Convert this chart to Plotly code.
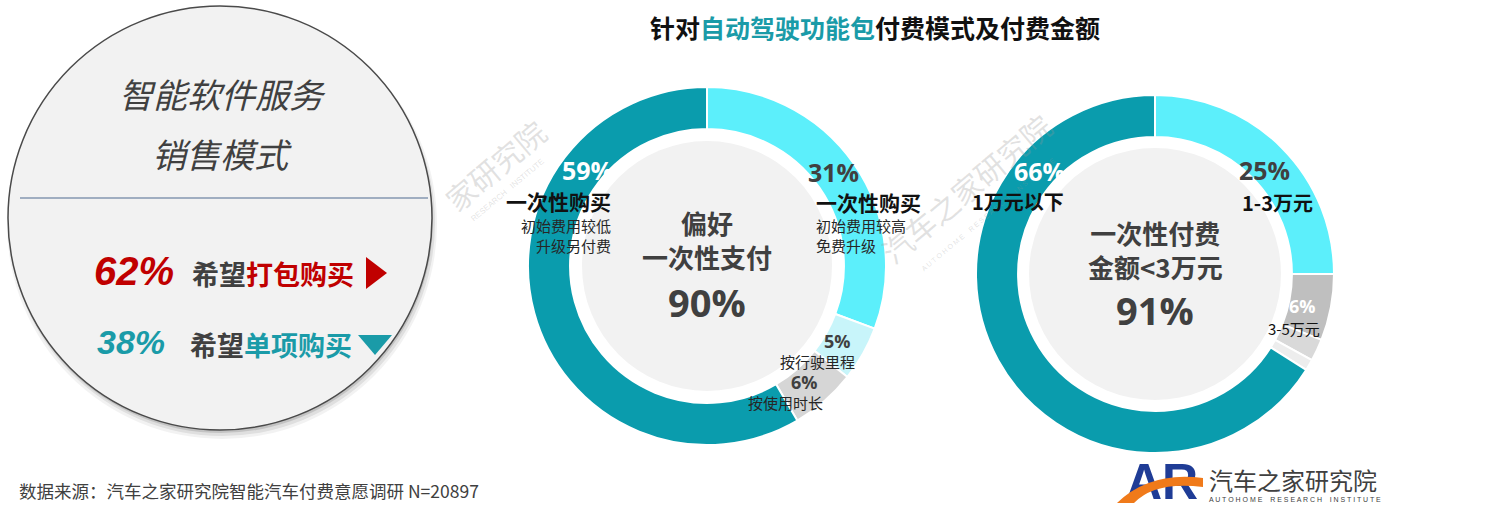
import plotly.graph_objects as go

W, H = 1488, 526

# ---------------- data ----------------
title_parts = ["针对", "自动驾驶功能包", "付费模式及付费金额"]

mode_labels = ["一次性购买（初始费用较高，免费升级）", "按行驶里程", "按使用时长",
               "一次性购买（初始费用较低，升级另付费）"]
mode_values = [31, 5, 6, 59]
mode_colors = ["#5CEFFB", "#C8F5FA", "#D6D6D6", "#0A9CAD"]
mode_total_pct = 90

amount_labels = ["1-3万元", "3-5万元", "5-10万元", "10万元以上", "1万元以下"]
amount_values = [25, 6, 2, 1, 66]
amount_colors = ["#5CEFFB", "#BFBFBF", "#D9D9D9", "#EDEDED", "#0A9CAD"]
amount_total_pct = 91

bundle_pct = 62
single_pct = 38

source_text = "数据来源：汽车之家研究院智能汽车付费意愿调研 N=20897"

TEAL = "#0A9CAD"
TEAL_TXT = "#1A9BA8"
RED = "#C00000"
DARK = "#404040"
CJK = "Noto Sans CJK SC"
NUM = "Open Sans, Noto Sans CJK SC"


def X(px):
    return px / W


def Y(py):
    return 1 - py / H


fig = go.Figure()

# ---------------- donuts ----------------
def donut(values, labels, colors, cx, cy, r):
    fig.add_trace(go.Pie(
        values=values, labels=labels, sort=False, direction="clockwise", rotation=0,
        hole=0.765, textinfo="none", hoverinfo="label+percent", showlegend=False,
        marker=dict(colors=colors, line=dict(color="white", width=2)),
        domain=dict(x=[X(cx - r), X(cx + r)], y=[Y(cy + r), Y(cy - r)]),
    ))


donut(mode_values, mode_labels, mode_colors, 707, 266, 179)
donut(amount_values, amount_labels, amount_colors, 1155, 274, 179)

# logo letters through a pixel-space scatter
fig.add_trace(go.Scatter(x=[1162], y=[H - 486], mode="text", text=["<b>AR</b>"],
                         textfont=dict(family="Liberation Sans", size=50, color="#1F3C96"),
                         hoverinfo="skip", showlegend=False))
fig.update_xaxes(visible=False, range=[0, W], domain=[0, 1])
fig.update_yaxes(visible=False, range=[0, H], domain=[0, 1])

shapes = []
# inner gray discs
for cx, cy, r in [(707, 266, 125), (1155, 274, 126)]:
    shapes.append(dict(type="circle", xref="paper", yref="paper",
                       x0=X(cx - r), x1=X(cx + r), y0=Y(cy + r), y1=Y(cy - r),
                       fillcolor="#F2F2F2", line=dict(width=0), layer="below"))

# left circle shadow + circle
lcx, lcy, lr = 220, 218, 212
for dx, dy, extra, a in [(2, 6, 3, 0.05), (2, 5, 1, 0.08), (1, 3, 0, 0.12)]:
    shapes.append(dict(type="circle", xref="paper", yref="paper",
                       x0=X(lcx - lr - extra + dx), x1=X(lcx + lr + extra + dx),
                       y0=Y(lcy + lr + extra + dy), y1=Y(lcy - lr - extra + dy),
                       fillcolor=f"rgba(0,0,0,{a})", line=dict(width=0), layer="above"))
shapes.append(dict(type="circle", xref="paper", yref="paper",
                   x0=X(lcx - lr), x1=X(lcx + lr), y0=Y(lcy + lr), y1=Y(lcy - lr),
                   fillcolor="#F2F2F2", line=dict(color="#4A4A4A", width=1.5), layer="above"))
shapes.append(dict(type="line", xref="paper", yref="paper",
                   x0=X(20), x1=X(428), y0=Y(198), y1=Y(198),
                   line=dict(color="#8497B0", width=1.5), layer="above"))
# triangles
shapes.append(dict(type="path", xref="paper", yref="paper", layer="above",
                   path=f"M {X(366)} {Y(257)} L {X(387)} {Y(273)} L {X(366)} {Y(289)} Z",
                   fillcolor=RED, line=dict(width=0)))
shapes.append(dict(type="path", xref="paper", yref="paper", layer="above",
                   path=f"M {X(358)} {Y(335)} L {X(392)} {Y(335)} L {X(375)} {Y(355)} Z",
                   fillcolor=TEAL_TXT, line=dict(width=0)))
# logo swoosh
shapes.append(dict(type="path", xref="paper", yref="paper", layer="above",
                   path=(f"M {X(1117)} {Y(503)} Q {X(1150)} {Y(471)} {X(1203)} {Y(478)} "
                         f"L {X(1203)} {Y(487)} Q {X(1155)} {Y(481)} {X(1134)} {Y(503)} Z"),
                   fillcolor="#F07A1A", line=dict(width=0)))

ann = []


def T(text, x, y, size, color=DARK, family=CJK, xanchor="center", angle=0, align="center"):
    ann.append(dict(text=text, x=X(x), y=Y(y), xref="paper", yref="paper",
                    xanchor=xanchor, yanchor="middle", showarrow=False, textangle=angle,
                    align=align, font=dict(family=family, size=size, color=color)))


# watermarks
WM = "rgba(150,150,150,0.28)"
T("家研究院", 495, 165, 30, WM, angle=-40)
T("RESEARCH   INSTITUTE", 507, 190, 8, WM, family="Liberation Sans", angle=-40)
T("汽车之家研究院", 966, 188, 30, WM, angle=-40)
T("A U T O H O M E    R E S E A R C H    I N S T I T U T E", 988, 214, 7, WM,
  family="Liberation Sans", angle=-40)

# title
T(f"<b>{title_parts[0]}<span style='color:{TEAL_TXT}'>{title_parts[1]}</span>{title_parts[2]}</b>",
  875, 27, 25, "#111111")

# left circle texts
T("<i>智能软件服务</i>", 222, 93, 34, DARK)
T("<i>销售模式</i>", 222, 153, 34, DARK)
T(f"<b><i>{bundle_pct}%</i></b>", 134, 271, 40, RED, family="Liberation Sans")
T(f"<b>希望<span style='color:{RED}'>打包购买</span></b>", 190, 273, 27, DARK, xanchor="left")
T(f"<b><i>{single_pct}%</i></b>", 131, 342, 34, TEAL_TXT, family="Liberation Sans")
T(f"<b>希望<span style='color:{TEAL_TXT}'>单项购买</span></b>", 188, 344, 27, DARK, xanchor="left")

# donut 1 center
T("<b>偏好<br>一次性支付</b>", 707, 239, 26, DARK)
T(f"<b>{mode_total_pct}%</b>", 707, 302, 38, DARK, family=NUM)

# donut 1 labels
T(f"<b>{mode_values[3]}%</b>", 587, 170, 25, "white", family=NUM)
T("<b>一次性购买</b>", 613, 201, 21, "#111111", xanchor="right")
T("初始费用较低<br>升级另付费", 613, 235, 15, "#262626", xanchor="right", align="right")

T(f"<b>{mode_values[0]}%</b>", 834, 172, 25, DARK, family=NUM)
T("<b>一次性购买</b>", 814, 202, 21, "#111111", xanchor="left")
T("初始费用较高<br>免费升级", 814, 235, 15, "#262626", xanchor="left", align="left")

T(f"<b>{mode_values[1]}%</b>", 837, 341, 18, DARK, family=NUM)
T("按行驶里程", 818, 361, 15, "#262626")
T(f"<b>{mode_values[2]}%</b>", 804, 382, 18, DARK, family=NUM)
T("按使用时长", 785, 402, 15, "#262626")

# donut 2 center
T("<b>一次性付费<br>金额<3万元</b>", 1155, 250, 26, DARK)
T(f"<b>{amount_total_pct}%</b>", 1155, 310, 38, DARK, family=NUM)

# donut 2 labels
T(f"<b>{amount_values[4]}%</b>", 1039, 171, 25, "white", family=NUM)
T(f"<b>{amount_labels[4]}</b>", 1018, 201, 20, "#111111")
T(f"<b>{amount_values[0]}%</b>", 1264, 170, 25, DARK, family=NUM)
T(f"<b>{amount_labels[0]}</b>", 1277, 202, 20, "#111111")
T(f"<b>{amount_values[1]}%</b>", 1302, 306, 18, "white", family=NUM)
T(amount_labels[1], 1294, 328, 15, "#111111")

# footer
T(source_text, 17, 490, 17.5, DARK, xanchor="left")

# logo text
T("汽车之家研究院", 1207, 479, 24, DARK, xanchor="left")
T("A U T O H O M E    R E S E A R C H    I N S T I T U T E", 1207, 499, 7, DARK,
  family="Liberation Sans", xanchor="left")

fig.update_layout(width=W, height=H, margin=dict(l=0, r=0, t=0, b=0),
                  paper_bgcolor="white", plot_bgcolor="rgba(0,0,0,0)",
                  shapes=shapes, annotations=ann, showlegend=False)

fig.write_html("out.html", config={"displayModeBar": False},
               post_script="document.body.style.margin='0';document.body.style.overflow='hidden';")
